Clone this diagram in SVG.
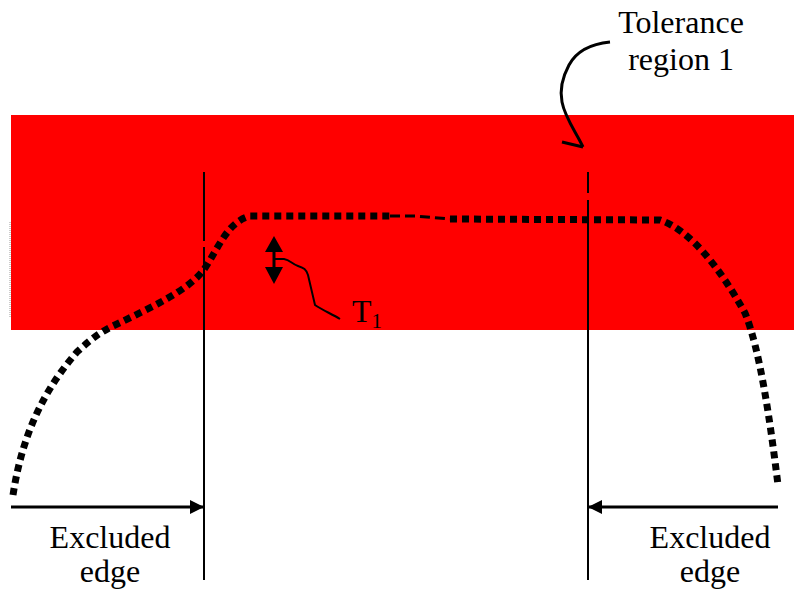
<svg xmlns="http://www.w3.org/2000/svg" width="794" height="594" viewBox="0 0 794 594">
<style>
.lbl{font-family:"Liberation Serif","Times New Roman",serif;font-size:32px;fill:#000;text-anchor:middle}
.thick{fill:none;stroke:#000;stroke-width:7;stroke-dasharray:7 5}
.thin{fill:none;stroke:#000;stroke-width:3;stroke-dasharray:10 5}
.ln{fill:none;stroke:#000;stroke-width:2}
.arr{fill:none;stroke:#000;stroke-width:3}
</style>
<defs>
<marker id="ah" viewBox="0 0 14 14" refX="14" refY="7" markerWidth="14" markerHeight="14" markerUnits="userSpaceOnUse" orient="auto">
<path d="M0,0 L14,7 L0,14 Z" fill="#000"/>
</marker>
</defs>
<rect id="tolerance-band" x="11" y="115" width="783" height="215" fill="#ff0000"/>
<line x1="10" y1="222" x2="10" y2="318" stroke="#999" stroke-width="1" stroke-dasharray="1 1"/>
<g id="profile">
<path class="thick" d="M13,495 C20,450 35,400 77,352 C90,340 100,332 115,325 C150,308 190,290 205,268 C220,245 228,222 250,216 L390,216"/>
<path class="thin" d="M390,216 L415,216 L450,219"/>
<path class="thick" d="M450,219 L660,220 C690,230 720,268 745,313 C760,350 770,420 778,485"/>
</g>
<g id="connectors">
<path class="ln" d="M204,172 V241 M204,247 V580"/>
<path class="ln" d="M588,172 V193 M588,200 V580"/>
<line class="arr" x1="11" y1="507" x2="204" y2="507" marker-end="url(#ah)"/>
<line class="arr" x1="778" y1="507" x2="588" y2="507" marker-end="url(#ah)"/>
<path class="arr" d="M610,42 C590,44 576,52 569,65 C562,78 560,92 562,102 C565,118 576,132 583,147"/>
<path class="arr" d="M562,142 L583,147"/>
<path d="M274,236 L265,252 L283,252 Z M274,284 L265,267 L283,267 Z" fill="#000"/>
<line x1="274" y1="250" x2="274" y2="268" stroke="#000" stroke-width="3"/>
<path fill="none" stroke="#000" stroke-width="2" d="M274,259 L284,259 C290,260 292,264 298,266 C304,268 306,269 308,275 L315,305 C322,310 332,314 340,319"/>
</g>
<g id="label-tolerance">
<text class="lbl" x="681" y="33">Tolerance</text>
<text class="lbl" x="681" y="70">region 1</text>
</g>
<g id="label-t1">
<text x="352" y="322" font-family="Liberation Serif, serif" font-size="32">T<tspan font-size="21" dy="6">1</tspan></text>
</g>
<g id="label-left">
<text class="lbl" x="110" y="548">Excluded</text>
<text class="lbl" x="110" y="582">edge</text>
</g>
<g id="label-right">
<text class="lbl" x="710" y="548">Excluded</text>
<text class="lbl" x="710" y="582">edge</text>
</g>
</svg>
